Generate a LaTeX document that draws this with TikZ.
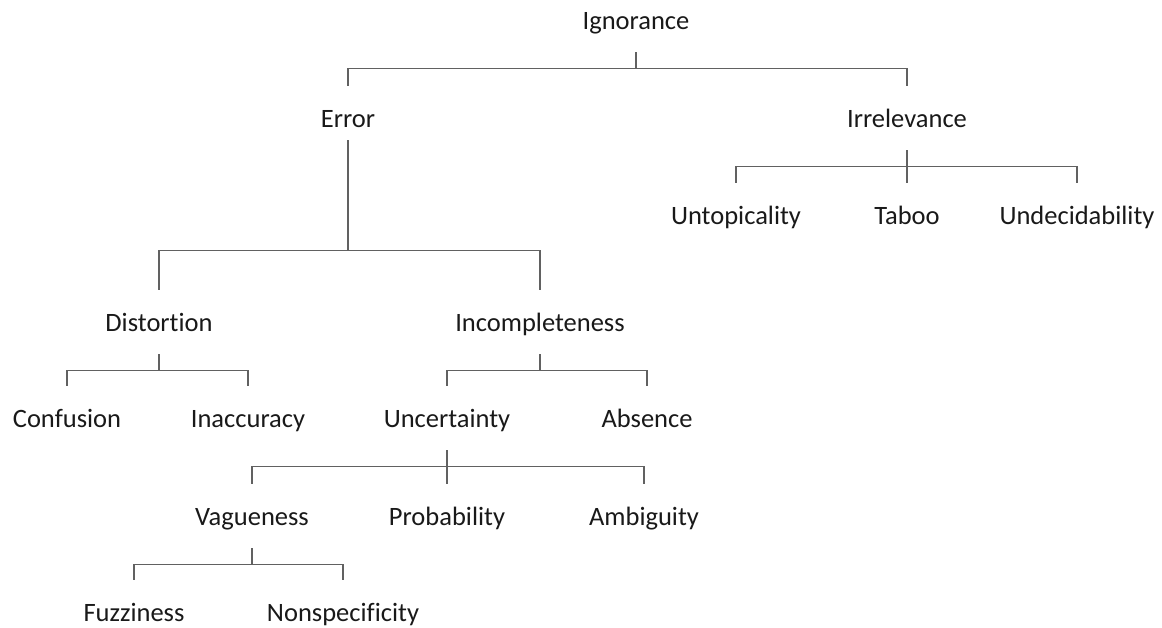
\documentclass[tikz,border=0pt]{standalone}
\usepackage{fontspec}
\setmainfont{Carlito}[Ligatures=NoCommon]
\begin{document}
\begin{tikzpicture}[
    x=1pt, y=-1pt,
    term/.style={inner sep=0pt, minimum height=64pt, text height=20pt, text depth=2pt,
      font=\fontsize{26.5}{30}\selectfont, text=black!90},
    link/.style={draw=black!62, line width=1.1pt}]
  \useasboundingbox (0,0) rectangle (1162,627);
  % nodes
  \node[term] (ign) at (636,20)  {Ignorance};
  \node[term] (err) at (348,118) {Error};
  \node[term] (irr) at (907,118) {Irrelevance};
  \node[term] (unt) at (736,215) {Untopicality};
  \node[term] (tab) at (907,215) {Taboo};
  \node[term] (und) at (1077,215) {Undecidability};
  \node[term] (dis) at (159,322) {Distortion};
  \node[term] (inc) at (540,322) {Incompleteness};
  \node[term] (con) at (67,418)  {Confusion};
  \node[term] (ina) at (248,418) {Inaccuracy};
  \node[term] (unc) at (447,418) {Uncertainty};
  \node[term] (abs) at (647,418) {Absence};
  \node[term] (vag) at (252,516) {Vagueness};
  \node[term] (pro) at (447,516) {Probability};
  \node[term] (amb) at (644,516) {Ambiguity};
  \node[term] (fuz) at (134,612) {Fuzziness};
  \node[term] (non) at (343,612) {Nonspecificity};
  % brackets
  \draw[link] (ign.south) -- ++(0,16) -| (err.north) (ign.south) ++(0,16) -| (irr.north);
  \draw[link] ([yshift=10pt]err.south) -- ++(0,110) -| (dis.north) (err.south) ++(0,100) -| (inc.north);
  \draw[link] (irr.south) -- (tab.north) (irr.south) ++(0,16) -| (unt.north) (irr.south) ++(0,16) -| (und.north);
  \draw[link] (dis.south) -- ++(0,16) -| (con.north) (dis.south) ++(0,16) -| (ina.north);
  \draw[link] (inc.south) -- ++(0,16) -| (unc.north) (inc.south) ++(0,16) -| (abs.north);
  \draw[link] (unc.south) -- (pro.north) (unc.south) ++(0,16) -| (vag.north) (unc.south) ++(0,16) -| (amb.north);
  \draw[link] (vag.south) -- ++(0,16) -| (fuz.north) (vag.south) ++(0,16) -| (non.north);
\end{tikzpicture}
\end{document}
